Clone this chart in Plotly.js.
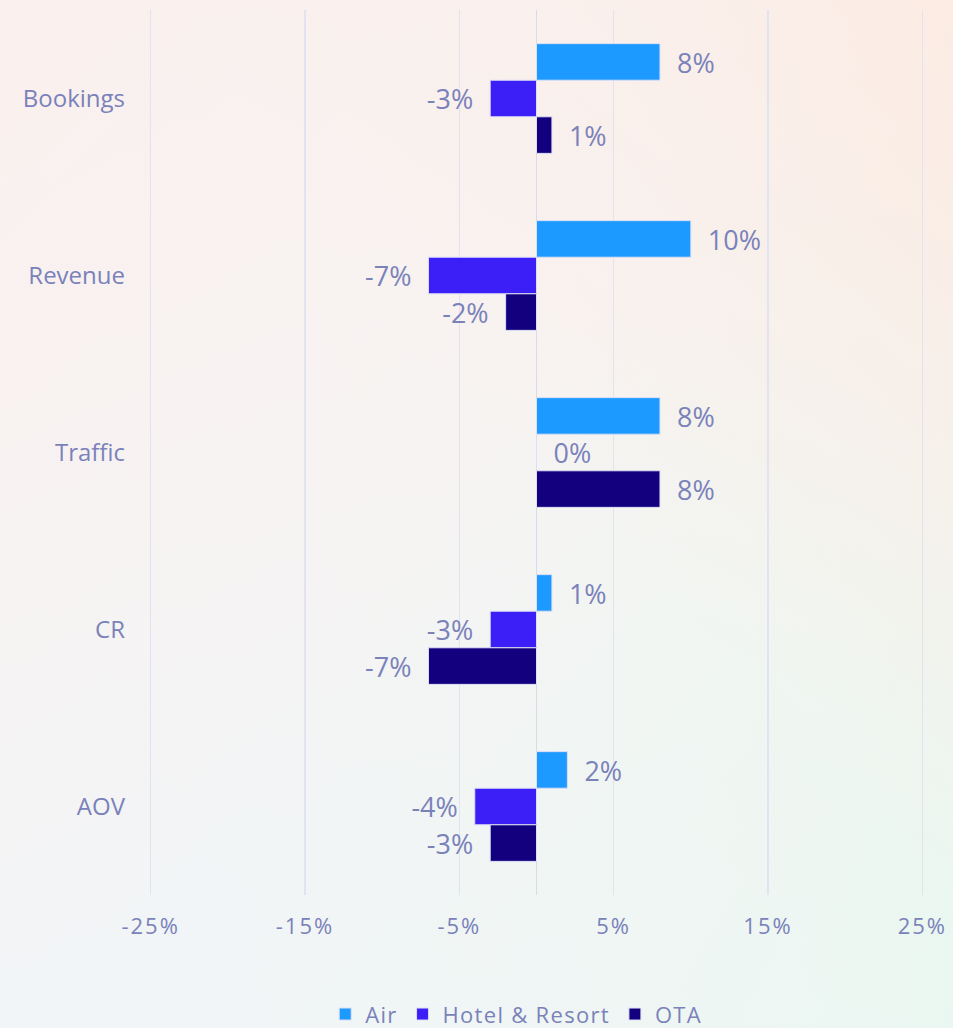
<!DOCTYPE html>
<html>
<head>
<meta charset="utf-8">
<script src="https://cdn.plot.ly/plotly-3.0.1.min.js"></script>
<style>
html,body{margin:0;padding:0;width:953px;height:1028px;overflow:hidden;}
body{background:
  linear-gradient(135deg,#faf0ee 0%,rgba(250,240,238,0) 55%),
  linear-gradient(225deg,#fcebe2 0%,rgba(252,235,226,0) 45%),
  linear-gradient(45deg,#f1f5f8 0%,rgba(241,245,248,0) 55%),
  linear-gradient(315deg,#e9f7f0 0%,rgba(233,247,240,0) 55%),
  #f6f4f3;}
#chart{width:953px;height:1028px;}
.xtick text{letter-spacing:2px;}
.legendtext{letter-spacing:1.3px;}
</style>
</head>
<body>
<div id="chart"></div>
<script>
const categories = ["Bookings","Revenue","Traffic","CR","AOV"];
const airValues = [8, 10, 8, 1, 2];
const hotelValues = [-3, -7, 0, -3, -4];
const otaValues = [1, -2, 8, -7, -3];
const seriesNames = ["Air","Hotel & Resort","OTA"];
const tickValues = [-25,-15,-5,5,15,25];
const tickLabels = ["-25%","-15%","-5%","5%","15%","25%"];

const colors = ["#1c9aff","#3c1ff7","#13007f"];
const textColor = "#7a82ba";
const font = "Open Sans, Noto Sans, sans-serif";
const pad = "\u00a0\u00a0";

function mk(vals, i){
  return {
    type:"bar", orientation:"h",
    y:categories, x:vals, name:seriesNames[i],
    marker:{color:colors[i], line:{color:"#dcdff5", width:1}},
    text:vals.map(v => v < 0 ? (v + "%" + pad) : (pad + v + "%")),
    textposition:"outside",
    textfont:{size:28, color:textColor, family:font},
    cliponaxis:false, hoverinfo:"x+name"
  };
}

const data = [mk(airValues,0), mk(hotelValues,1), mk(otaValues,2)];

const layout = {
  width:953, height:1028,
  paper_bgcolor:"rgba(0,0,0,0)", plot_bgcolor:"rgba(0,0,0,0)",
  margin:{l:146, r:26, t:10, b:133, autoexpand:false},
  barmode:"group", bargap:0.38, bargroupgap:0,
  font:{family:font, color:textColor},
  xaxis:{
    range:[-25.3,25.3], tickvals:tickValues, ticktext:tickLabels,
    showgrid:true, gridcolor:"#e1e3f0", gridwidth:1.5,
    zeroline:true, zerolinecolor:"#d9dbe8", zerolinewidth:1.5,
    showline:false, ticks:"",
    tickfont:{size:22, color:textColor, family:font},
    ticklabelstandoff:16, fixedrange:true
  },
  yaxis:{
    categoryorder:"array", categoryarray:categories, autorange:"reversed",
    showgrid:false, zeroline:false, showline:false, ticks:"",
    tickfont:{size:24, color:textColor, family:font},
    ticklabelstandoff:20, fixedrange:true
  },
  showlegend:true,
  legend:{orientation:"h", x:0.474, xanchor:"center", yref:"paper", y:-0.111, yanchor:"top",
    font:{size:22, color:textColor, family:font}, traceorder:"normal",
    itemwidth:30, tracegroupgap:0, bgcolor:"rgba(0,0,0,0)"}
};

Plotly.newPlot("chart", data, layout, {displayModeBar:false, staticPlot:true});
</script>
</body>
</html>
